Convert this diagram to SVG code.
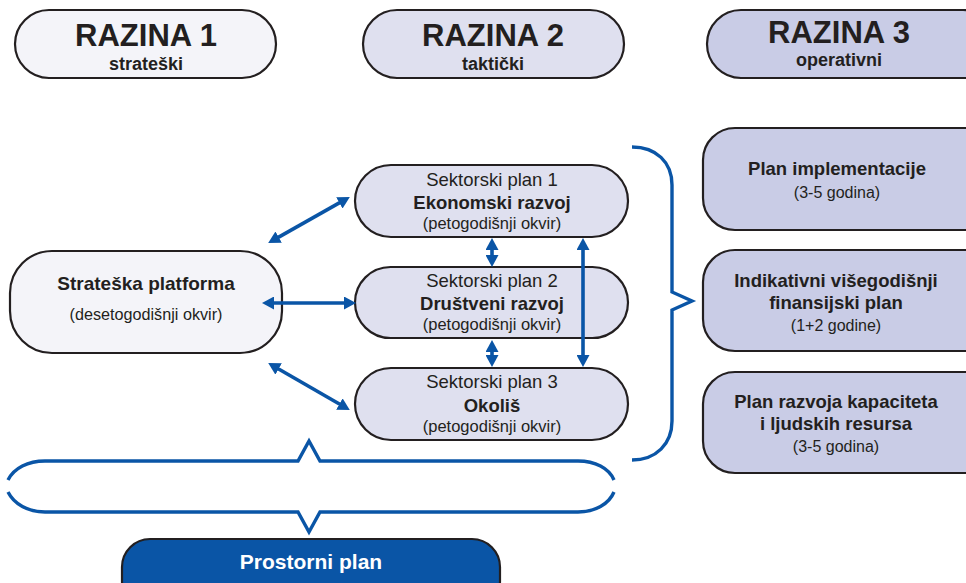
<svg xmlns="http://www.w3.org/2000/svg" width="966" height="583" viewBox="0 0 966 583">
<style>
  .box{stroke:#231f20;stroke-width:2.2}
  .l1{fill:#f4f4f9}
  .l2{fill:#dfe0ef}
  .l3{fill:#c9cce6}
  .t{font-family:"Liberation Sans",Arial,sans-serif;fill:#231f20;text-anchor:middle}
  .b{font-weight:bold}
  .hd{font-size:31px;font-weight:bold}
  .sub{font-size:18px;font-weight:bold}
  .arr{stroke:#0a55a6;stroke-width:3.6;fill:none;marker-start:url(#ah);marker-end:url(#ah)}
  .brace{stroke:#0a55a6;stroke-width:3.4;fill:none;stroke-linejoin:miter}
</style>
<defs>
  <marker id="ah" markerUnits="userSpaceOnUse" markerWidth="12" markerHeight="13" viewBox="0 0 12 13" refX="6" refY="6.5" orient="auto-start-reverse">
    <path d="M0,0 L12,6.5 L0,13 z" fill="#0a55a6"/>
  </marker>
</defs>

<g id="razina1">
  <rect class="box l1" x="15" y="10" width="261" height="68" rx="34"/>
  <text class="t hd" x="146" y="46">RAZINA 1</text>
  <text class="t sub" x="146" y="69.5">strateški</text>
</g>
<g id="razina2">
  <rect class="box l2" x="363" y="10" width="261" height="68" rx="34"/>
  <text class="t hd" x="493" y="46">RAZINA 2</text>
  <text class="t sub" x="493" y="69.5">taktički</text>
</g>
<g id="razina3">
  <rect class="box l3" x="707" y="10" width="290" height="68" rx="34"/>
  <text class="t hd" x="839" y="43">RAZINA 3</text>
  <text class="t sub" x="839" y="66">operativni</text>
</g>

<g id="strateska">
  <rect class="box l1" x="10" y="251" width="272" height="102" rx="42"/>
  <text class="t b" x="146" y="290" font-size="19">Strateška platforma</text>
  <text class="t" x="146" y="320" font-size="16.2">(desetogodišnji okvir)</text>
</g>

<g id="sektor1">
  <rect class="box l2" x="355" y="165" width="273" height="72" rx="36"/>
  <text class="t" x="492" y="186" font-size="18.5">Sektorski plan 1</text>
  <text class="t b" x="492" y="209" font-size="18.5">Ekonomski razvoj</text>
  <text class="t" x="492" y="228.5" font-size="16.5">(petogodišnji okvir)</text>
</g>
<g id="sektor2">
  <rect class="box l2" x="355" y="267" width="273" height="71" rx="35.5"/>
  <text class="t" x="492" y="287" font-size="18.5">Sektorski plan 2</text>
  <text class="t b" x="492" y="310" font-size="18.5">Društveni razvoj</text>
  <text class="t" x="492" y="329.5" font-size="16.5">(petogodišnji okvir)</text>
</g>
<g id="sektor3">
  <rect class="box l2" x="355" y="368" width="273" height="72" rx="36"/>
  <text class="t" x="492" y="388" font-size="18.5">Sektorski plan 3</text>
  <text class="t b" x="492" y="412" font-size="18.5">Okoliš</text>
  <text class="t" x="492" y="431.5" font-size="16.5">(petogodišnji okvir)</text>
</g>

<g id="implementacija">
  <rect class="box l3" x="703" y="128" width="300" height="102" rx="32"/>
  <text class="t b" x="837" y="175" font-size="18.5">Plan implementacije</text>
  <text class="t" x="837" y="198" font-size="16">(3-5 godina)</text>
</g>
<g id="finansijski">
  <rect class="box l3" x="703" y="250" width="300" height="101" rx="32"/>
  <text class="t b" x="836" y="287" font-size="18.5">Indikativni višegodišnji</text>
  <text class="t b" x="836" y="309" font-size="18.5">finansijski plan</text>
  <text class="t" x="836" y="331" font-size="16">(1+2 godine)</text>
</g>
<g id="kapaciteti">
  <rect class="box l3" x="703" y="372" width="300" height="101" rx="32"/>
  <text class="t b" x="836" y="408" font-size="18.5">Plan razvoja kapaciteta</text>
  <text class="t b" x="836" y="430" font-size="18.5">i ljudskih resursa</text>
  <text class="t" x="836" y="452" font-size="16">(3-5 godina)</text>
</g>

<g id="prostorni">
  <rect x="122" y="539" width="378" height="70" rx="28" fill="#0a55a6" stroke="#231f20" stroke-width="2.2"/>
  <text class="t b" x="311" y="569" font-size="21" style="fill:#ffffff">Prostorni plan</text>
</g>

<g id="connectors">
  <line class="arr" x1="273.4" y1="240.1" x2="344.6" y2="199.9"/>
  <line class="arr" x1="268" y1="303" x2="350" y2="303"/>
  <line class="arr" x1="273.4" y1="366" x2="344.6" y2="407"/>
  <line class="arr" x1="492" y1="244" x2="492" y2="261"/>
  <line class="arr" x1="492" y1="346" x2="492" y2="361"/>
  <line class="arr" x1="583" y1="244" x2="583" y2="361"/>
  <path class="brace" d="M632,147 C656,147 672,162 672,185 L672,292 L692,301 L672,310 L672,421 C672,444 656,460 632,460"/>
  <path class="brace" d="M8,480 C14,468 28,461 45,461 L298,461 L309,441 L320,461 L578,461 C595,461 609,468 614,480"/>
  <path class="brace" d="M8,492 C14,504 28,512 45,512 L298,512 L309,532 L320,512 L578,512 C595,512 609,504 614,492"/>
</g>
</svg>
